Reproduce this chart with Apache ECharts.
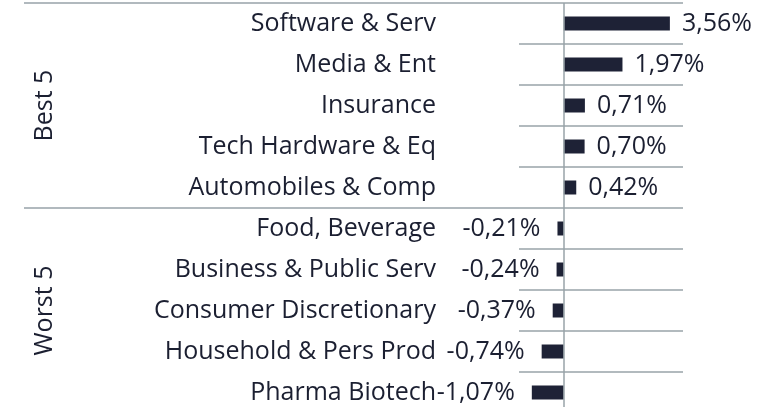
<!DOCTYPE html>
<html lang="en">
<head>
    <meta charset="UTF-8">
    <title>Best 5 / Worst 5</title>
    <script src="https://cdn.jsdelivr.net/npm/echarts@6/dist/echarts.min.js"></script>
    <style>
        html, body { margin: 0; padding: 0; background: #fff; }
        #chart { width: 782px; height: 407px; }
    </style>
</head>
<body>
<div id="chart"></div>
<script>
    // data
    var categories = ['Software & Serv', 'Media & Ent', 'Insurance', 'Tech Hardware & Eq', 'Automobiles & Comp',
        'Food, Beverage', 'Business & Public Serv', 'Consumer Discretionary', 'Household & Pers Prod', 'Pharma Biotech'];
    var values = [3.56, 1.97, 0.71, 0.70, 0.42, -0.21, -0.24, -0.37, -0.74, -1.07];
    var groups = ['Best 5', 'Worst 5'];

    var textColor = '#1b1f31';
    var barColor = '#1e2236';
    var lineColor = '#98a3a9';
    var font = 'Open Sans';
    var fontSize = 25;

    var mCharts = echarts.init(document.getElementById('chart'));

    // negative values get their label on the left of the bar
    var barData = values.map(function (v) {
        return {
            value: v,
            label: { position: v < 0 ? 'left' : 'right', distance: v < 0 ? 17 : 12 }
        };
    });

    var option = {
        animation: false,
        // last row runs a bit past the bottom edge, as in the original
        grid: { left: 519, right: 99, top: 3, height: 410, outerBoundsMode: 'none' },
        xAxis: {
            type: 'value',
            min: -1.5,
            max: 4,
            axisLine: { show: false },
            axisTick: { show: false },
            axisLabel: { show: false },
            splitLine: { show: false }
        },
        yAxis: [{
            type: 'category',
            data: categories,
            inverse: true,
            axisLine: { show: false },
            axisTick: { show: false },
            axisLabel: { color: textColor, fontFamily: font, fontSize: fontSize, margin: 83, padding: [4, 0, 0, 0] },
            splitLine: { show: true, lineStyle: { color: lineColor, width: 1.5 } }
        }, {
            // group labels, the long ticks are the group dividers
            type: 'category',
            data: groups,
            inverse: true,
            position: 'left',
            axisLine: { show: false },
            axisTick: { show: true, length: 495, lineStyle: { color: lineColor, width: 1.5 } },
            axisLabel: { color: textColor, fontFamily: font, fontSize: fontSize, rotate: 90, margin: 462 },
            splitLine: { show: false }
        }],
        series: [{
            type: 'bar',
            yAxisIndex: 0,
            data: barData,
            barWidth: 14,
            itemStyle: { color: barColor },
            label: {
                show: true,
                color: textColor,
                fontFamily: font,
                fontSize: fontSize,
                padding: [4, 0, 0, 0],
                formatter: function (p) {
                    return p.value.toFixed(2).replace('.', ',') + '%';
                }
            },
            markLine: {
                silent: true,
                symbol: 'none',
                label: { show: false },
                lineStyle: { color: lineColor, width: 1.5, type: 'solid' },
                data: [{ xAxis: 0 }]
            }
        }]
    };
    mCharts.setOption(option);
</script>
</body>
</html>
